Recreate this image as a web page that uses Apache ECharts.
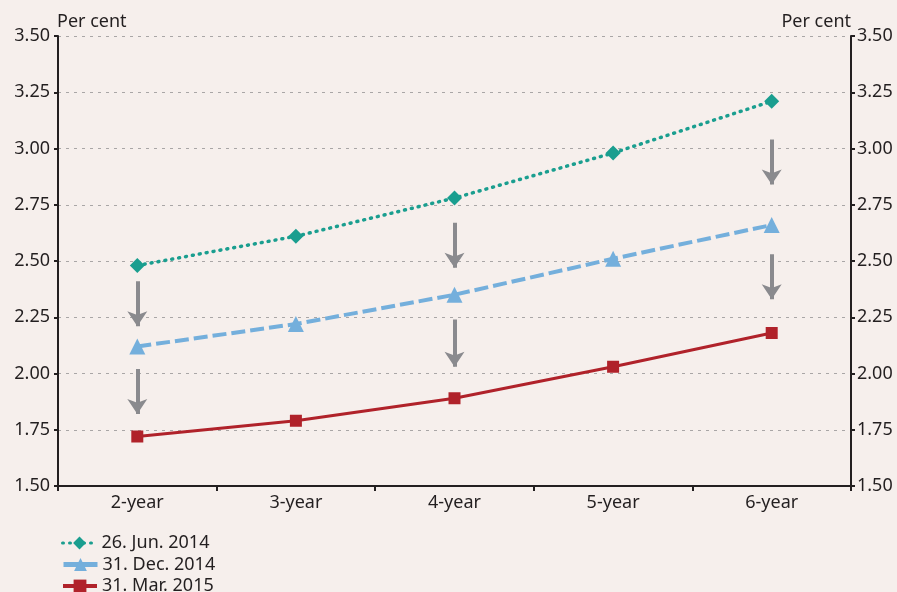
<!DOCTYPE html>
<html>
<head>
<meta charset="utf-8">
<script src="https://cdn.jsdelivr.net/npm/echarts@6/dist/echarts.min.js"></script>
<style>
  html, body { margin: 0; padding: 0; background: #f6efec; }
  #chart { width: 897px; height: 592px; }
</style>
</head>
<body>
<div id="chart"></div>
<script>
// categories and series values
const categories = ["2-year", "3-year", "4-year", "5-year", "6-year"];
const jun2014 = [2.48, 2.61, 2.78, 2.98, 3.21];
const dec2014 = [2.12, 2.22, 2.35, 2.51, 2.66];
const mar2015 = [1.72, 1.79, 1.89, 2.03, 2.18];
// grey arrows: [category index, from, to]
const arrows = [
  [0, 2.41, 2.21], [0, 2.02, 1.82],
  [2, 2.67, 2.47], [2, 2.24, 2.03],
  [4, 3.04, 2.84], [4, 2.53, 2.33]
];
const yTicks = { min: 1.5, max: 3.5, interval: 0.25 };
const legendNames = ["26. Jun. 2014", "31. Dec. 2014", "31. Mar. 2015"];

const textColor = "#231f20";
const font = "Noto Sans";
const fs = 18;

const colors = { jun: "#1a9e8f", dec: "#74afdc", mar: "#b0222a", arrow: "#8a8a8e" };

const chart = echarts.init(document.getElementById("chart"));

const yAxisBase = {
  type: "value",
  min: yTicks.min,
  max: yTicks.max,
  interval: yTicks.interval,
  name: "Per cent",
  nameLocation: "end",
  nameGap: 5,
  axisLine: { show: true, lineStyle: { color: "#231f20", width: 2 } },
  axisTick: { show: true, length: 4, lineStyle: { color: "#231f20", width: 2 } },
  axisLabel: {
    color: textColor, fontSize: fs, fontFamily: font,
    formatter: (v) => v.toFixed(2)
  }
};

const legendLine = [
  { width: 3, type: [1, 6], cap: "round" },
  { width: 5, type: "solid" },
  { width: 4, type: "solid" }
];

// one legend per row so the items stack without wrapping
const legends = legendNames.map((n, i) => ({
  orient: "vertical",
  left: 56,
  top: 529 + i * 21.5,
  itemGap: 0,
  itemWidth: 34,
  itemHeight: 16,
  textStyle: { color: textColor, fontSize: fs, fontFamily: font },
  data: [{ name: n, lineStyle: legendLine[i] }]
}));

const option = {
  backgroundColor: "#f6efec",
  animation: false,
  grid: { left: 58, right: 46, top: 36, bottom: 106 },
  xAxis: {
    type: "category",
    data: categories,
    boundaryGap: true,
    axisLine: { lineStyle: { color: "#231f20", width: 2 } },
    axisTick: { show: true, length: 5, lineStyle: { color: "#231f20", width: 2 } },
    axisLabel: { color: textColor, fontSize: fs, fontFamily: font, margin: 8 },
    splitLine: { show: false }
  },
  yAxis: [
    Object.assign({}, yAxisBase, {
      position: "left",
      nameTextStyle: { color: textColor, fontSize: fs, fontFamily: font, align: "left", padding: [0, 0, 0, -1] },
      axisLabel: Object.assign({}, yAxisBase.axisLabel, { margin: 8 }),
      splitLine: { show: true, lineStyle: { color: "#a9a6a6", type: [3, 5], width: 1.2 } }
    }),
    Object.assign({}, yAxisBase, {
      position: "right",
      nameTextStyle: { color: textColor, fontSize: fs, fontFamily: font, align: "right", padding: [0, 0, 0, 0] },
      axisLabel: Object.assign({}, yAxisBase.axisLabel, { margin: 6 }),
      splitLine: { show: false }
    })
  ],
  legend: legends,
  series: [
    {
      name: legendNames[0],
      type: "line",
      data: jun2014,
      symbol: "diamond",
      symbolSize: 15,
      itemStyle: { color: colors.jun },
      lineStyle: { color: colors.jun, width: 3.5, type: [1, 6], cap: "round" },
      z: 3
    },
    {
      name: legendNames[1],
      type: "line",
      data: dec2014,
      symbol: "triangle",
      symbolSize: 16,
      itemStyle: { color: colors.dec },
      lineStyle: { color: colors.dec, width: 4, type: [14, 5] },
      z: 3
    },
    {
      name: legendNames[2],
      type: "line",
      data: mar2015,
      symbol: "rect",
      symbolSize: 12,
      itemStyle: { color: colors.mar },
      lineStyle: { color: colors.mar, width: 3 },
      z: 3
    },
    {
      type: "lines",
      coordinateSystem: "cartesian2d",
      silent: true,
      symbol: ["none", "arrow"],
      symbolSize: [30, 15],
      lineStyle: { color: colors.arrow, width: 4, opacity: 1 },
      data: arrows.map((a) => ({ coords: [[a[0], a[1]], [a[0], a[2]]] })),
      z: 2
    }
  ]
};

chart.setOption(option);
</script>
</body>
</html>
